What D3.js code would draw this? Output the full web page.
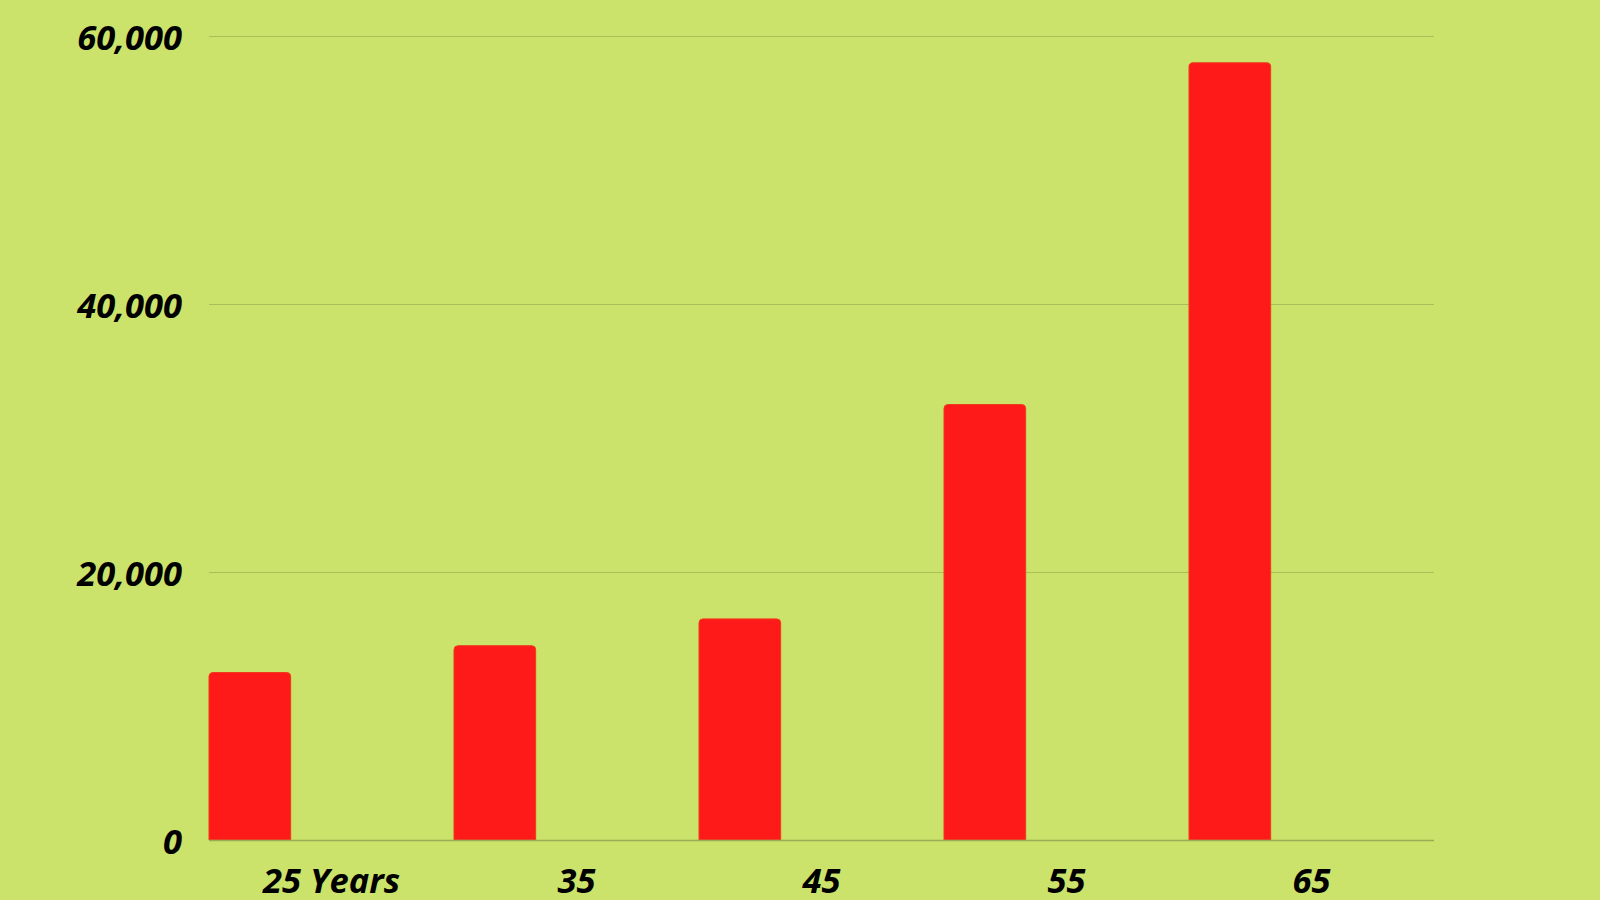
<!DOCTYPE html>
<html>
<head>
<meta charset="utf-8">
<script src="https://cdn.jsdelivr.net/npm/d3@7"></script>
<style>
  html, body { margin: 0; padding: 0; background: #cbe36a; }
  svg { display: block; }
  text { font-family: "Open Sans", "Noto Sans", sans-serif; font-weight: bold; font-style: italic; fill: #000; }
</style>
</head>
<body>
<svg id="chart"></svg>
<script>
const categories = ['25 Years', '35', '45', '55', '65'];
const values = [12500, 14500, 16500, 32500, 58000];
const yTicks = [0, 20000, 40000, 60000];

const width = 1600, height = 900;
const margin = { top: 36, right: 166, bottom: 60, left: 209 };

const svg = d3.select('#chart')
  .attr('width', width)
  .attr('height', height);

svg.append('rect')
  .attr('width', width)
  .attr('height', height)
  .attr('fill', '#cbe36a');

const x = d3.scaleBand()
  .domain(categories)
  .range([margin.left, width - margin.right])
  .padding(0);

const y = d3.scaleLinear()
  .domain([0, 60000])
  .range([height - margin.bottom, margin.top]);

// gridlines
svg.append('g')
  .selectAll('line')
  .data(yTicks.filter(d => d > 0))
  .enter()
  .append('line')
  .attr('x1', margin.left)
  .attr('x2', width - margin.right)
  .attr('y1', d => y(d) + 0.5)
  .attr('y2', d => y(d) + 0.5)
  .attr('stroke', '#aabf5a')
  .attr('stroke-width', 1);

// y labels
svg.append('g')
  .selectAll('text')
  .data(yTicks)
  .enter()
  .append('text')
  .attr('x', 182)
  .attr('y', d => y(d))
  .attr('dy', '0.42em')
  .attr('text-anchor', 'end')
  .style('font-size', '34.5px')
  .text(d => d3.format(',')(d));

// bars with rounded top corners
const barW = x.bandwidth() / 3;
const r = 4;
svg.append('g')
  .selectAll('path')
  .data(values)
  .enter()
  .append('path')
  .attr('d', (d, i) => {
    const x0 = x(categories[i]), x1 = x0 + barW;
    const yt = y(d), yb = y(0);
    return `M${x0},${yb}V${yt + r}Q${x0},${yt} ${x0 + r},${yt}H${x1 - r}Q${x1},${yt} ${x1},${yt + r}V${yb}Z`;
  })
  .attr('fill', '#ff1a1a')
  .attr('stroke', '#f03a1a')
  .attr('stroke-width', 1);

// baseline
svg.append('line')
  .attr('x1', margin.left)
  .attr('x2', width - margin.right)
  .attr('y1', y(0) + 0.5)
  .attr('y2', y(0) + 0.5)
  .attr('stroke', '#98ad55')
  .attr('stroke-width', 1.5);

// x labels
svg.append('g')
  .selectAll('text')
  .data(categories)
  .enter()
  .append('text')
  .attr('x', d => x(d) + x.bandwidth() / 2)
  .attr('y', 893)
  .attr('text-anchor', 'middle')
  .style('font-size', '34.5px')
  .text(d => d);
</script>
</body>
</html>
